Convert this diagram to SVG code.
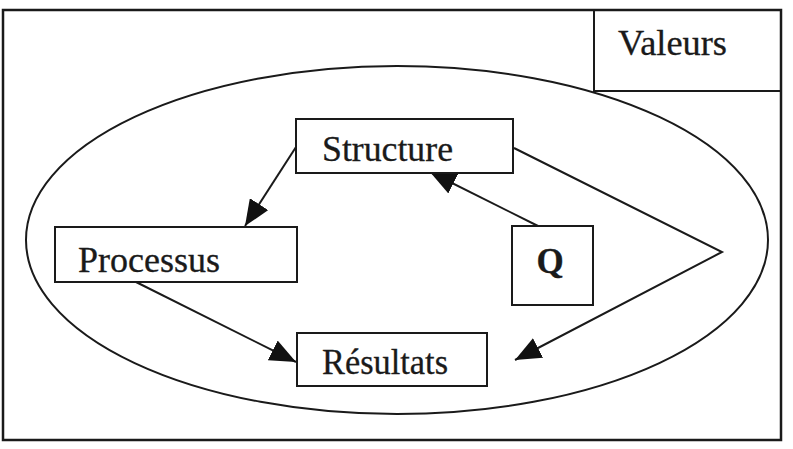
<svg xmlns="http://www.w3.org/2000/svg" width="793" height="449" viewBox="0 0 793 449">
<style>
.box{fill:#fff;stroke:#1a1a1a;stroke-width:2}
.lbl{font-family:"Liberation Serif","Times New Roman",serif;font-size:35px;fill:#1a1a1a;stroke:#1a1a1a;stroke-width:0.3}
.ln{fill:none;stroke:#1a1a1a;stroke-width:2}
</style>
<defs>
<marker id="ahb" viewBox="0 0 10 10" refX="10" refY="5" markerWidth="26" markerHeight="22" markerUnits="userSpaceOnUse" orient="auto" preserveAspectRatio="none">
<path d="M0,0 L10,5 L0,10 Z" fill="#111"/>
</marker>
</defs>
<rect id="frame" x="3" y="10" width="778" height="430" fill="#fff" stroke="#1a1a1a" stroke-width="2.5"/>
<g id="valeurs">
<rect x="594" y="10" width="187" height="81" fill="none" stroke="#1a1a1a" stroke-width="2"/>
<text class="lbl" x="618" y="55" font-size="38" textLength="109" lengthAdjust="spacingAndGlyphs">Valeurs</text>
</g>
<ellipse id="ellipse" cx="397" cy="240" rx="371" ry="174" class="ln"/>
<g id="connectors">
<line class="ln" x1="296" y1="147" x2="245" y2="226" marker-end="url(#ahb)"/>
<line class="ln" x1="538" y1="226" x2="430" y2="172" marker-end="url(#ahb)"/>
<line class="ln" x1="136" y1="282" x2="296" y2="362" marker-end="url(#ahb)"/>
<polyline class="ln" points="514,148 722,252 515,360" marker-end="url(#ahb)"/>
</g>
<g id="structure">
<rect class="box" x="296" y="119" width="217" height="54"/>
<text class="lbl" x="322" y="161" textLength="131" lengthAdjust="spacingAndGlyphs">Structure</text>
</g>
<g id="processus">
<rect class="box" x="55" y="227" width="242" height="55"/>
<text class="lbl" x="78" y="272" textLength="142" lengthAdjust="spacingAndGlyphs">Processus</text>
</g>
<g id="q">
<rect class="box" x="512" y="226" width="81" height="79"/>
<text class="lbl" x="550" y="273" font-weight="bold" font-size="32" text-anchor="middle">Q</text>
</g>
<g id="resultats">
<rect class="box" x="297" y="333" width="190" height="53"/>
<text class="lbl" x="322" y="374" textLength="126" lengthAdjust="spacingAndGlyphs">Résultats</text>
</g>
</svg>
